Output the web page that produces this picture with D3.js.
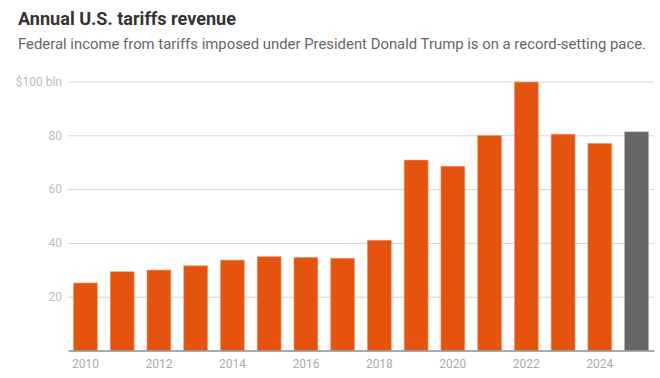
<!DOCTYPE html>
<html>
<head>
<meta charset="utf-8">
<script src="https://cdn.jsdelivr.net/npm/d3@7"></script>
<style>
  html, body { margin: 0; padding: 0; background: #fff; }
  svg { display: block; }
</style>
</head>
<body>
<svg id="chart" width="660" height="378"></svg>
<script>
const years = [2010, 2011, 2012, 2013, 2014, 2015, 2016, 2017, 2018, 2019, 2020, 2021, 2022, 2023, 2024, 2025];
const revenue = [25.1, 29.3, 29.9, 31.5, 33.6, 34.9, 34.6, 34.3, 41.0, 70.8, 68.5, 79.9, 99.8, 80.4, 77.0, 81.3];
const highlightYear = 2025;
const yTicks = [20, 40, 60, 80, 100];
const xTickYears = [2010, 2012, 2014, 2016, 2018, 2020, 2022, 2024];
const titleText = "Annual U.S. tariffs revenue";
const subtitleText = "Federal income from tariffs imposed under President Donald Trump is on a record-setting pace.";

const svg = d3.select("#chart");
const font = "Roboto, 'Noto Sans', sans-serif";

svg.append("text")
  .attr("x", 18).attr("y", 25)
  .attr("font-family", font).attr("font-weight", 700).attr("font-size", 18)
  .attr("fill", "#333")
  .attr("textLength", 218).attr("lengthAdjust", "spacingAndGlyphs")
  .text(titleText);

svg.append("text")
  .attr("x", 18).attr("y", 49)
  .attr("font-family", font).attr("font-weight", 400).attr("font-size", 14.5)
  .attr("fill", "#666")
  .attr("textLength", 628).attr("lengthAdjust", "spacingAndGlyphs")
  .text(subtitleText);

const left = 68, right = 654;
const y = d3.scaleLinear().domain([0, 100]).range([350.5, 81.5]);
const x = d3.scaleBand().domain(years).range([left, right]).paddingInner(0.35).paddingOuter(0.15);

// gridlines
const yAxis = d3.axisLeft(y).tickValues(yTicks)
  .tickSize(-(right - left))
  .tickFormat(d => d === 100 ? "$100 bln" : d);
const gy = svg.append("g").attr("transform", `translate(${left},0)`).call(yAxis);
gy.select(".domain").remove();
gy.selectAll(".tick line").attr("stroke", "#d6d6d6").attr("stroke-width", 1);
gy.selectAll(".tick text")
  .attr("x", -6)
  .attr("font-family", font).attr("font-size", 12)
  .attr("fill", "#bdbdbd");

// bars
svg.append("g").selectAll("rect")
  .data(years.map((yr, i) => ({ yr, v: revenue[i] })))
  .join("rect")
  .attr("x", d => x(d.yr))
  .attr("width", x.bandwidth())
  .attr("y", d => y(d.v))
  .attr("height", d => y(0) - y(d.v))
  .attr("fill", d => d.yr === highlightYear ? "#666666" : "#e5540f")
  .attr("stroke", d => d.yr === highlightYear ? "#aaa" : "#f29a70")
  .attr("stroke-width", 0.8)
  .attr("stroke-opacity", 0.7);

// x axis
const xAxis = d3.axisBottom(x).tickValues(xTickYears).tickSize(0).tickPadding(9);
const gx = svg.append("g").attr("transform", `translate(0,${y(0)})`).call(xAxis);
gx.select(".domain").attr("stroke", "#8c8c8c").attr("stroke-width", 1.5);
gx.selectAll(".tick text")
  .attr("font-family", font).attr("font-size", 12)
  .attr("fill", "#aaaaaa");
</script>
</body>
</html>
